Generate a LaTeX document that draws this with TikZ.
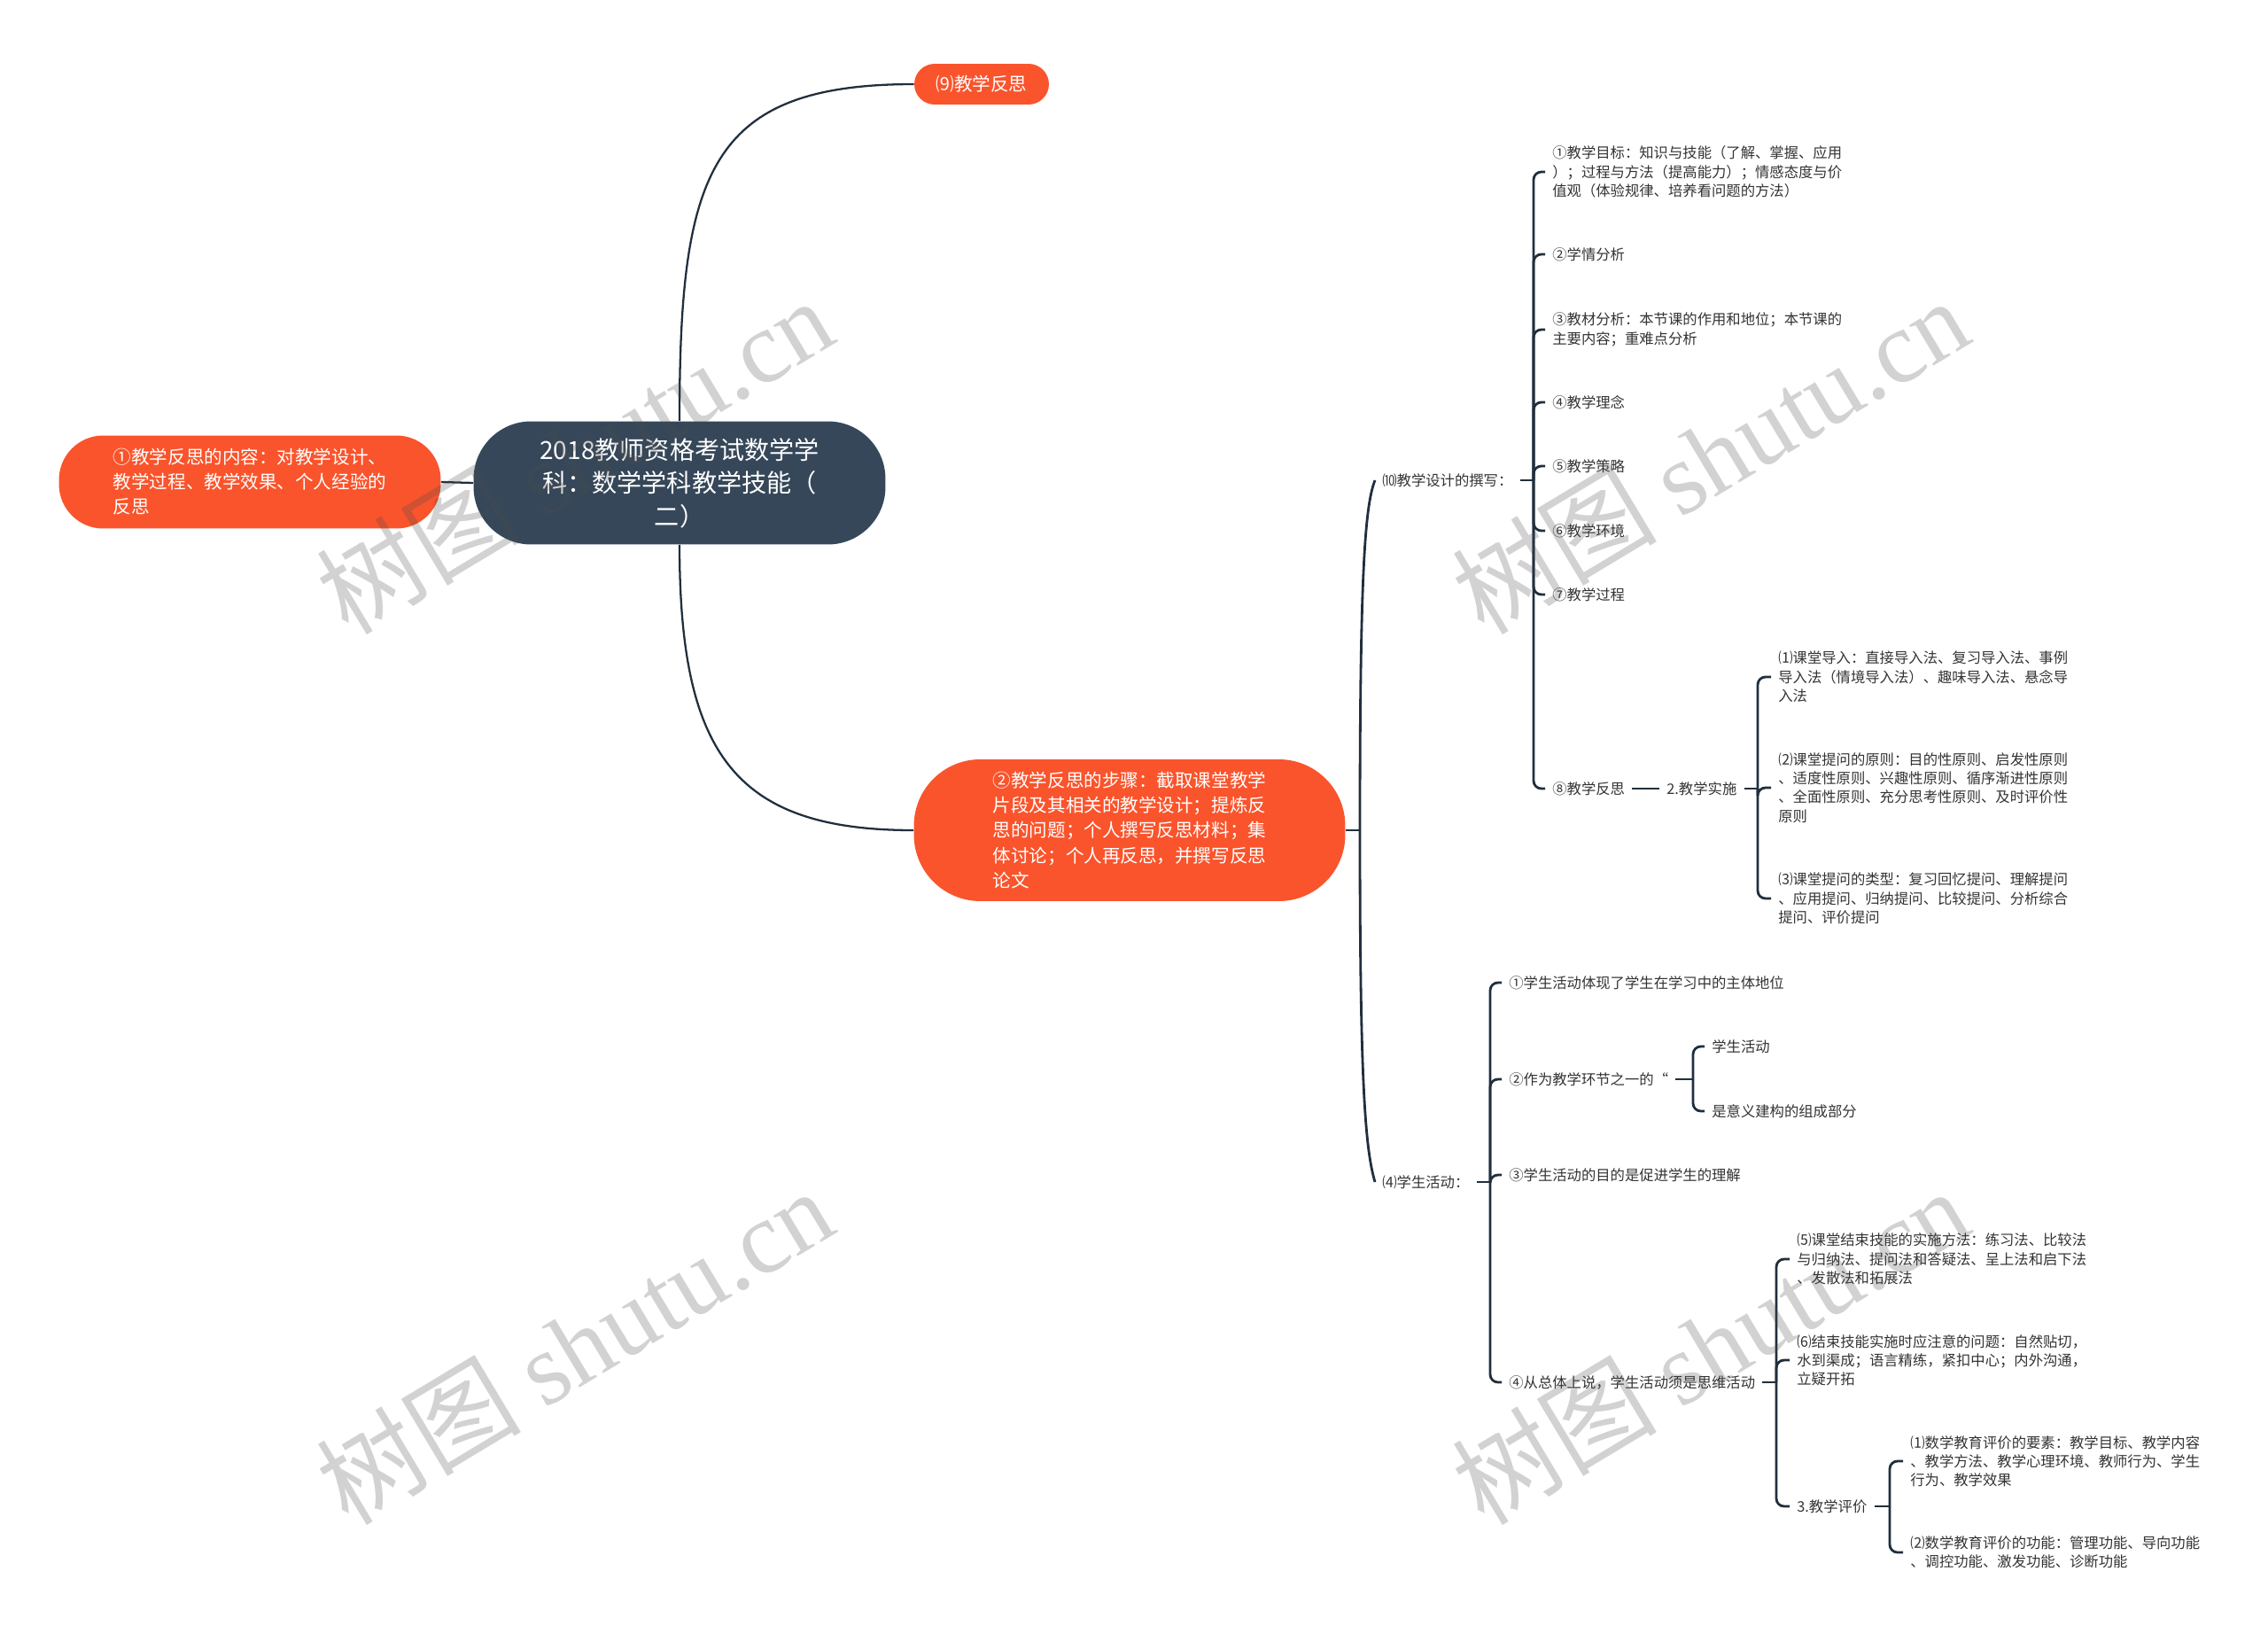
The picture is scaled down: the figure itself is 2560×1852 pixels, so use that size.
\documentclass[tikz,border=0pt]{standalone}
\usepackage{fontspec}
\newfontfamily\cjk{Noto Sans CJK SC}
\newfontfamily\wmserif{Liberation Serif}
\usetikzlibrary{calc}
\definecolor{pillorange}{RGB}{250,84,44}
\definecolor{rootblue}{RGB}{54,71,89}
\definecolor{linkcol}{RGB}{33,47,61}
\begin{document}
\begin{tikzpicture}[
    x=0.02cm, y=-0.02cm,
    every node/.style={font=\cjk\fontsize{9.3pt}{12.1pt}\selectfont, text=black!80},
    link/.style={draw=linkcol, line width=1.3pt},
    brace/.style={draw=linkcol, line width=1.6pt, rounded corners=5pt},
    leaf/.style={anchor=west, align=left, inner xsep=0.16cm, inner ysep=0pt},
    pill/.style={fill=pillorange, text=white, align=left, inner sep=0pt,
        font=\cjk\fontsize{11.7pt}{16pt}\selectfont},
    root/.style={fill=rootblue, text=white, align=center, inner sep=0pt,
        font=\cjk\fontsize{16pt}{21.3pt}\selectfont},
    wmark/.style={rotate=31, text=black!70, opacity=0.25,
        font=\cjk\fontsize{66pt}{66pt}\selectfont}
]
\useasboundingbox (0,0) rectangle (2560,1852);

% Central topic and its three main branches
\node[root, minimum width=9.3cm, minimum height=2.78cm, rounded corners=1.3cm] (root) at (767,545)
    {2018教师资格考试数学学\\科：数学学科教学技能（\\二）};
\node[pill, minimum width=8.62cm, minimum height=2.1cm, rounded corners=1cm] (neirong) at (282,544)
    {①教学反思的内容：对教学设计、\\教学过程、教学效果、个人经验的\\反思};
\node[pill, minimum width=3.04cm, minimum height=0.92cm, rounded corners=0.46cm] (fansi) at (1108,95)
    {⑼教学反思};
\node[pill, minimum width=9.74cm, minimum height=3.2cm, rounded corners=1.5cm] (buzhou) at (1275,937)
    {②教学反思的步骤：截取课堂教学\\片段及其相关的教学设计；提炼反\\思的问题；个人撰写反思材料；集\\体讨论；个人再反思，并撰写反思\\论文};

\draw[link] (root.west) -- (neirong.east);
\draw[link] (root.north) .. controls +(0,-280) and +(-232,0) .. (fansi.west);
\draw[link] (root.south) .. controls +(0,236) and +(-202,0) .. (buzhou.west);

% (10) teaching design
\node[leaf] (sheji) at (1552,542) {⑽教学设计的撰写：};
\coordinate (sjx) at (1731,0);
\node[leaf] (s1) at (1744,194) {①教学目标：知识与技能（了解、掌握、应用\\）；过程与方法（提高能力）；情感态度与价\\值观（体验规律、培养看问题的方法）};
\node[leaf] (s2) at (1744,287) {②学情分析};
\node[leaf] (s3) at (1744,372) {③教材分析：本节课的作用和地位；本节课的\\主要内容；重难点分析};
\node[leaf] (s4) at (1744,454) {④教学理念};
\node[leaf] (s5) at (1744,526) {⑤教学策略};
\node[leaf] (s6) at (1744,599) {⑥教学环境};
\node[leaf] (s7) at (1744,671) {⑦教学过程};
\node[leaf] (s8) at (1744,890) {⑧教学反思};
\node[leaf] (shishi) at (1873,890) {2.教学实施};
\coordinate (ssx) at (1984,0);
\node[leaf] (t1) at (1999,764) {⑴课堂导入：直接导入法、复习导入法、事例\\导入法（情境导入法）、趣味导入法、悬念导\\入法};
\node[leaf] (t2) at (1999,889) {⑵课堂提问的原则：目的性原则、启发性原则\\、适度性原则、兴趣性原则、循序渐进性原则\\、全面性原则、充分思考性原则、及时评价性\\原则};
\node[leaf] (t3) at (1999,1014) {⑶课堂提问的类型：复习回忆提问、理解提问\\、应用提问、归纳提问、比较提问、分析综合\\提问、评价提问};

% (4) student activity
\node[leaf] (huodong) at (1552,1334) {⑷学生活动：};
\coordinate (hdx) at (1682,0);
\node[leaf] (h1) at (1695,1109) {①学生活动体现了学生在学习中的主体地位};
\node[leaf] (h2) at (1695,1218) {②作为教学环节之一的“};
\node[leaf] (h3) at (1695,1326) {③学生活动的目的是促进学生的理解};
\node[leaf] (h4) at (1695,1560) {④从总体上说，学生活动须是思维活动};
\coordinate (h2x) at (1911,0);
\node[leaf] (h21) at (1924,1181) {学生活动};
\node[leaf] (h22) at (1924,1254) {是意义建构的组成部分};
\coordinate (h4x) at (2005,0);
\node[leaf] (k5) at (2020,1421) {⑸课堂结束技能的实施方法：练习法、比较法\\与归纳法、提问法和答疑法、呈上法和启下法\\、发散法和拓展法};
\node[leaf] (k6) at (2020,1535) {⑹结束技能实施时应注意的问题：自然贴切，\\水到渠成；语言精练，紧扣中心；内外沟通，\\立疑开拓};
\node[leaf] (pingjia) at (2020,1700) {3.教学评价};
\coordinate (pjx) at (2133,0);
\node[leaf] (p1) at (2148,1649) {⑴数学教育评价的要素：教学目标、教学内容\\、教学方法、教学心理环境、教师行为、学生\\行为、教学效果};
\node[leaf] (p2) at (2148,1752) {⑵数学教育评价的功能：管理功能、导向功能\\、调控功能、激发功能、诊断功能};

% Trunk from step node
\coordinate (trunk) at (1535,937);
\draw[link, line width=1.6pt] (buzhou.east) -- (trunk);
\draw[link, line width=1.6pt] (trunk) .. controls +(0,-280) and +(-12,30) .. (sheji.west);
\draw[link, line width=1.6pt] (trunk) .. controls +(0,270) and +(-12,-40) .. (huodong.west);

% Brackets
\draw[brace] (sheji.east) -- (sheji.east -| sjx);
\foreach \c in {s1,s2,s3,s4,s5,s6,s7,s8}
    \draw[brace] (sheji.east -| sjx) |- (\c.west);
\draw[brace] (s8.east) -- (shishi.west);
\draw[brace] (shishi.east) -- (shishi.east -| ssx);
\foreach \c in {t1,t2,t3}
    \draw[brace] (shishi.east -| ssx) |- (\c.west);

\draw[brace] (huodong.east) -- (huodong.east -| hdx);
\foreach \c in {h1,h2,h3,h4}
    \draw[brace] (huodong.east -| hdx) |- (\c.west);
\draw[brace] (h2.east) -- (h2.east -| h2x);
\foreach \c in {h21,h22}
    \draw[brace] (h2.east -| h2x) |- (\c.west);
\draw[brace] (h4.east) -- (h4.east -| h4x);
\foreach \c in {k5,k6,pingjia}
    \draw[brace] (h4.east -| h4x) |- (\c.west);
\draw[brace] (pingjia.east) -- (pingjia.east -| pjx);
\foreach \c in {p1,p2}
    \draw[brace] (pingjia.east -| pjx) |- (\c.west);

% Watermarks
\foreach \p [count=\i] in {(648,514),(1930,514),(648,1519),(1930,1519)}
    \node[wmark] (wm\i) at \p {树图 {\wmserif shutu.cn}};
\end{tikzpicture}
\end{document}
